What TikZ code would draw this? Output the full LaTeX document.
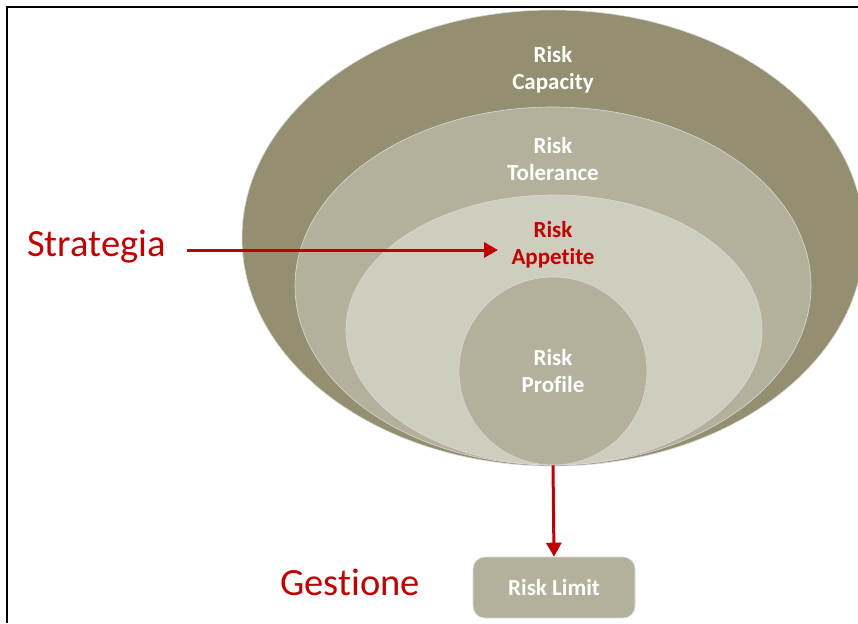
\documentclass[tikz,border=0pt]{standalone}
\usepackage{fontspec}
\setmainfont[Ligatures={NoCommon}]{Carlito}
\usetikzlibrary{shapes.geometric,arrows.meta}
\definecolor{capc}{HTML}{938F70}
\definecolor{tolc}{HTML}{B3B19B}
\definecolor{appc}{HTML}{CFCDBE}
\definecolor{proc}{HTML}{B3B19B}
\definecolor{redc}{HTML}{C00000}
\tikzset{
  ring/.style={ellipse, inner sep=0pt, draw=white!85!black, line width=0.6pt},
  lab/.style={align=center, font=\fontsize{23}{27}\selectfont\bfseries, text=white},
  biglab/.style={font=\fontsize{38.5}{42}\selectfont, text=redc},
  redarrow/.style={draw=redc, line width=3pt, -{Triangle[length=14pt,width=15pt]}},
}
\begin{document}
\begin{tikzpicture}[x=1pt,y=-1pt]
\useasboundingbox (0,0) rectangle (858,623);
\begin{scope}
\clip (0,0) rectangle (858,623);
\node[ring, fill=capc, minimum width=622pt, minimum height=456pt] (cap) at (553,238) {};
\node[ring, fill=tolc, minimum width=516pt, minimum height=358pt] (tol) at (553,286) {};
\node[ring, fill=appc, minimum width=416pt, minimum height=270pt] (app) at (554,330) {};
\node[ring, circle, fill=proc, minimum size=188pt] (pro) at (553,371) {};
\end{scope}
\node[lab] (capt) at (553,70) {Risk\\Capacity};
\node[lab] (tolt) at (553,159) {Risk\\Tolerance};
\node[lab, text=redc] (appt) at (553,245) {Risk\\Appetite};
\node[lab] (prot) at (553,371) {Risk\\Profile};
\node[draw=white!85!black, line width=0.6pt, fill=proc, rounded corners=12pt, minimum width=162pt, minimum height=61pt, font=\fontsize{23}{27}\selectfont\bfseries, text=white] (lim) at (554,587.5) {Risk Limit};
\node[biglab, anchor=base west, inner sep=0pt] (strat) at (27,256) {Strategia};
\node[biglab, anchor=base west, inner sep=0pt] (gest) at (280,595) {Gestione};
\coordinate (sa) at (187,250);
\coordinate (se) at (498,250);
\draw[redarrow] (sa) -- (se);
\draw[redarrow] (pro.south) -- (lim.north);
\draw[line width=2.2pt] (7,623) -- (7,7) -- (858,7);
\end{tikzpicture}
\end{document}
